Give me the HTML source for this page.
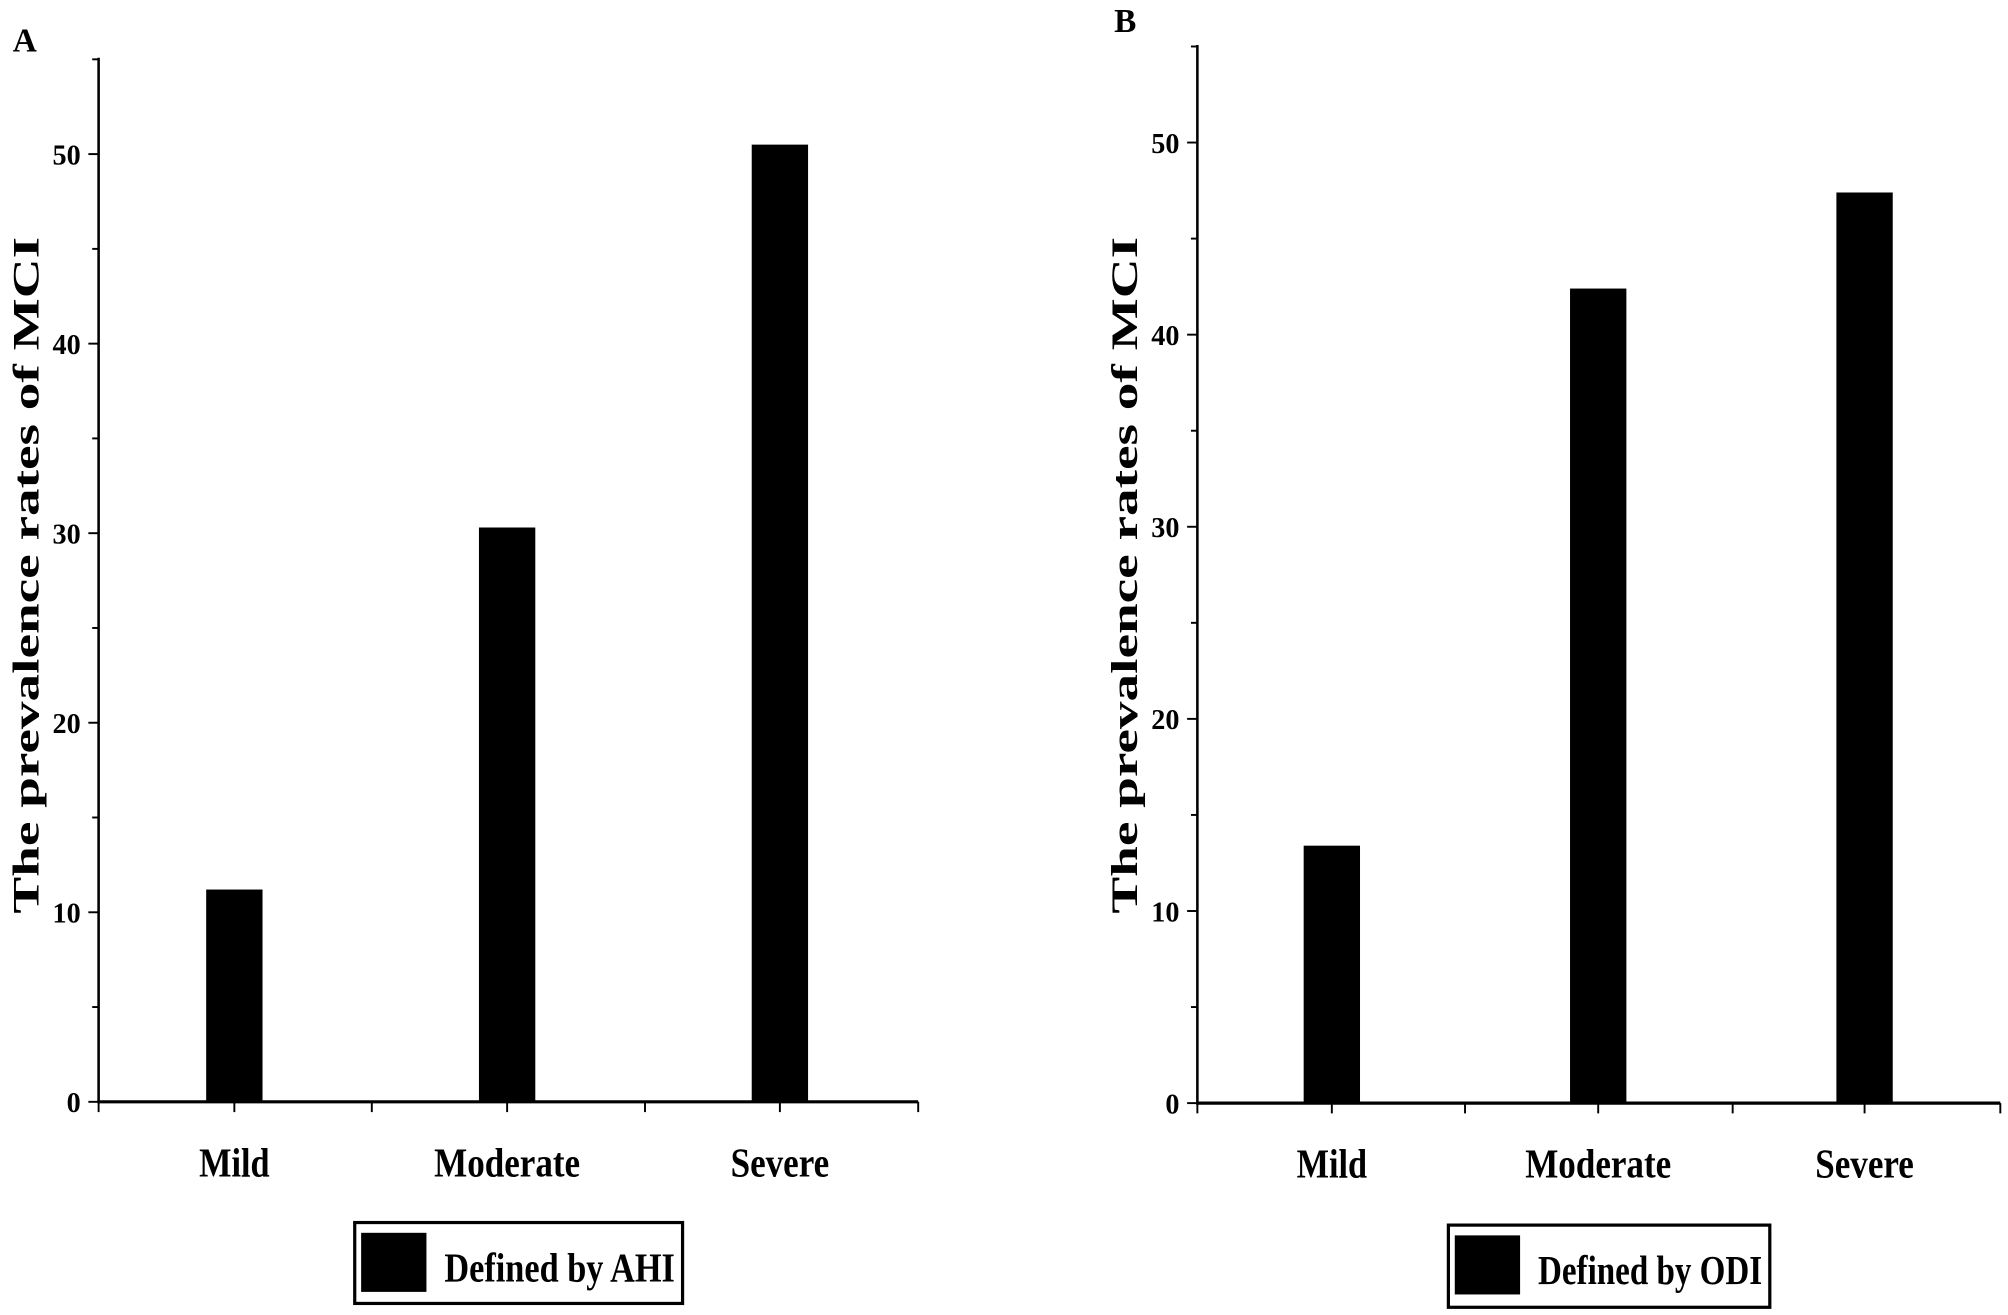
<!DOCTYPE html>
<html><head><meta charset="utf-8"><style>html,body{margin:0;padding:0;background:#fff}svg{display:block}</style></head>
<body>
<svg id="fig" width="2008" height="1315" viewBox="0 0 1568 1024" preserveAspectRatio="none" xmlns="http://www.w3.org/2000/svg" font-family="Liberation Serif, serif" font-weight="bold"></svg>
<script>
const categories = ["Mild","Moderate","Severe"];
const valuesAHI = [11.2, 30.3, 50.5];
const valuesODI = [13.4, 42.4, 47.4];
const yTicks = [0,10,20,30,40,50];
const panelLabels = ["A","B"];
const legendLabels = ["Defined by AHI","Defined by ODI"];

const NS = "http://www.w3.org/2000/svg";
const svg = document.getElementById("fig");
function mk(tag, attrs, parent){const e=document.createElementNS(NS,tag);for(const k in attrs)e.setAttribute(k,attrs[k]);(parent||svg).appendChild(e);return e;}

const panels = [
  {ax:77, top:45, zero:858, y50:120, right:717, cat0:183, step:213, bw:44, vals:valuesAHI, lab:[10,40], leg:[277,952,256,63], title:[22,448]},
  {ax:935, top:35, zero:859, y50:111, right:1562, cat0:1040, step:208, bw:44, vals:valuesODI, lab:[870,25], leg:[1131,954,251,64], title:[880,448]}
];
const catW = [55,114,77];

panels.forEach((p,pi)=>{
  const g = mk("g",{});
  
  
  const y = v => p.zero - (p.zero - p.y50) * v / 50;
  const x = i => p.cat0 + i*p.step;
  // panel label
  const pl = mk("text",{x:p.lab[0], y:p.lab[1], "font-size":26}, g); pl.textContent = panelLabels[pi];
  
  
  // bars
  p.vals.forEach((v,i)=>{
    const r = mk("rect",{x:x(i)-p.bw/2, y:y(v), width:p.bw, height:p.zero-y(v), fill:"#000"}, g);
    
    
  });
  // axes
  const ya = mk("line",{x1:p.ax, y1:p.top, x2:p.ax, y2:p.zero+1, stroke:"#000","stroke-width":2}, g);
  
  
  const xa = mk("line",{x1:p.ax-1, y1:p.zero, x2:p.right, y2:p.zero, stroke:"#000","stroke-width":2.5}, g);
  
  
  // y ticks
  for(let v=0; v<=55; v+=5){
    const major = v%10===0;
    mk("line",{x1:p.ax-(major?8:5), y1:y(v), x2:p.ax, y2:y(v), stroke:"#000","stroke-width":1.5}, g);
  }
  yTicks.forEach(v=>{
    const t = mk("text",{x:p.ax-14, y:y(v)+8, "font-size":22, "text-anchor":"end"}, g);
    t.textContent = v;
    
    
  });
  // x ticks at boundaries and category centers
  for(let i=0;i<=3;i++){
    const bx = p.ax + (p.right-p.ax)*i/3;
    mk("line",{x1:bx, y1:p.zero, x2:bx, y2:p.zero+8, stroke:"#000","stroke-width":1.5}, g);
  }
  categories.forEach((c,i)=>{
    mk("line",{x1:x(i), y1:p.zero, x2:x(i), y2:p.zero+8, stroke:"#000","stroke-width":1.5}, g);
    const t = mk("text",{x:x(i)-catW[i]/2, y:p.zero+58, "font-size":32, textLength:catW[i], lengthAdjust:"spacingAndGlyphs"}, g);
    t.textContent = c;
    
    
  });
  // y title
  const tt = mk("text",{x:0, y:0, "font-size":29, transform:`translate(${p.title[0]+8},${p.title[1]}) rotate(-90)`, "text-anchor":"middle", textLength:527, lengthAdjust:"spacingAndGlyphs"}, g);
  tt.textContent = "The prevalence rates of MCI";
  
  
  // legend
  const [lx,ly,lw,lh] = p.leg;
  const lg = mk("g",{}, g);
  
  
  mk("rect",{x:lx, y:ly, width:lw, height:lh, fill:"none", stroke:"#000","stroke-width":2.5}, lg);
  mk("rect",{x:lx+5, y:ly+8, width:51, height:46, fill:"#000"}, lg);
  const lt = mk("text",{x:lx+70, y:ly+46, "font-size":32, textLength:lw-76, lengthAdjust:"spacingAndGlyphs"}, lg);
  lt.textContent = legendLabels[pi];
  
  
});
</script>
</body></html>
